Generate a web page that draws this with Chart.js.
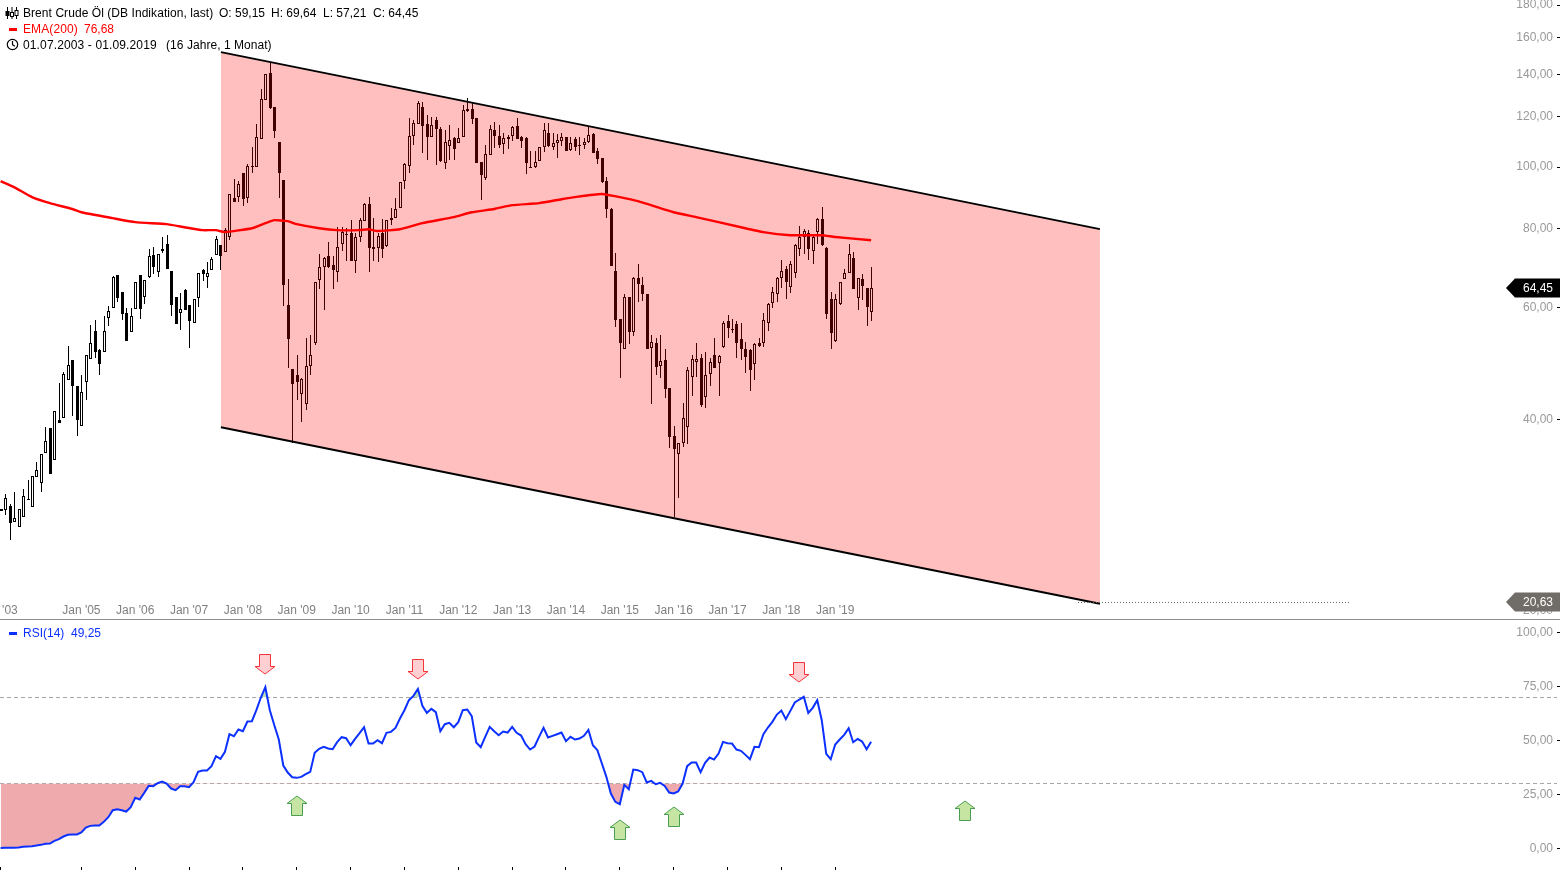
<!DOCTYPE html>
<html>
<head>
<meta charset="utf-8">
<title>Brent Crude Öl</title>
<script src="https://cdn.jsdelivr.net/npm/chart.js@4"></script>
<style>
  html, body { margin: 0; padding: 0; background: #fff; overflow: hidden; }
  #page { position: relative; width: 1560px; height: 870px; font: 12px "Liberation Sans", Arial, sans-serif; }
  canvas { position: absolute; left: 0; }
  #priceChart { top: 0; }
  #rsiChart { top: 620px; }
  #divider { position: absolute; left: 0; top: 619px; width: 1560px; height: 1px; background: #8c8c8c; }
  .txt { position: absolute; line-height: 16px; white-space: pre; }
  .dash { position: absolute; left: 9px; width: 8px; height: 3px; }
  svg { position: absolute; }
</style>
</head>
<body>
<div id="page">
  <canvas id="priceChart" width="1560" height="619"></canvas>
  <canvas id="rsiChart" width="1560" height="250"></canvas>
  <div id="divider"></div>

  <svg style="left:5px;top:7px" width="14" height="12" viewBox="0 0 14 12" fill="none" stroke="#000">
    <path d="M2.5 0v12M7 0v12M11.5 0v12"/>
    <rect x="1" y="4.5" width="3" height="4" fill="#000"/>
    <rect x="5.5" y="5.5" width="3" height="4" fill="#fff"/>
    <rect x="10" y="3.5" width="3" height="5" fill="#fff"/>
  </svg>
  <span class="txt" style="left:23px;top:5px;letter-spacing:.06px">Brent Crude Öl (DB Indikation, last)</span>
  <span class="txt" style="left:219px;top:5px">O: 59,15</span>
  <span class="txt" style="left:271px;top:5px">H: 69,64</span>
  <span class="txt" style="left:323px;top:5px">L: 57,21</span>
  <span class="txt" style="left:373px;top:5px">C: 64,45</span>

  <div class="dash" style="top:28px;background:#ff0000"></div>
  <span class="txt" style="left:23px;top:21px;color:#ff0000;letter-spacing:.1px">EMA(200)</span>
  <span class="txt" style="left:84px;top:21px;color:#ff0000">76,68</span>

  <svg style="left:6px;top:38px" width="13" height="13" viewBox="0 0 13 13" fill="none" stroke="#000" stroke-width="1.2">
    <circle cx="6.5" cy="6.5" r="5.2"/><path d="M6.5 3v3.7l2.4 1.5"/>
  </svg>
  <span class="txt" style="left:23px;top:37px;letter-spacing:.13px">01.07.2003 - 01.09.2019</span>
  <span class="txt" style="left:166px;top:37px;letter-spacing:.05px">(16 Jahre, 1 Monat)</span>

  <div class="dash" style="top:632px;background:#0b30ff"></div>
  <span class="txt" style="left:23px;top:625px;color:#0b30ff">RSI(14)</span>
  <span class="txt" style="left:71px;top:625px;color:#0b30ff">49,25</span>
</div>

<script>
// monatskerzen ab Jul '03, index = monate seit start
const candleOpen = [
  28.7,28.8,29.22,27.57,27.07,28.08,29.86,29.12,32.47,31.77,
  35.42,38.78,34.53,39.92,40.22,46.16,49.63,45.17,39.07,45.83,
  49.81,55.14,51.47,51.1,57.81,59.95,67.6,63.53,58.88,54.95,
  59.73,67.6,62.4,67.1,72.67,68.32,74.26,75.63,68.57,62.4,
  58.88,63.99,60.61,56.78,62.17,68.81,67.1,68.81,72.67,75.36,
  73.46,77.57,89.37,89.7,97.86,89.37,100.38,100,110.69,127.53,
  140.68,124.35,109.5,95.39,60.61,48.04,47.01,43.88,42.32,48.57,
  52.8,66.36,69.57,72.4,70.08,68.32,75.63,78.42,78.71,71.1,
  77.57,82.2,87.44,74.81,74.54,78.71,75.09,82.5,83.11,86.18,
  95.05,100.38,111.9,116.9,124.35,116.9,111.52,118.6,114.8,101.48,
  107.9,111.1,109.1,111.52,123.44,123.44,119.5,101.84,96.1,104.47,
  114.37,111.9,108.73,111.52,111.9,116.06,111.52,111.1,100,100,
  102.2,107.55,113.15,107.55,109.1,109.9,111.52,106.37,110.69,108.33,
  108.33,109.5,112.74,106,103.33,95.05,85.87,68.57,57.6,51.66,
  62.4,54.95,66.85,65.17,63.07,51.85,52.8,48.57,49.63,44.84,
  37.68,35.29,36.73,38.93,46.67,49.27,49.99,43.4,47.18,50.55,
  49.09,52.04,57.19,55.54,56.57,53.57,51.66,51.47,48.92,52.8,
  52.8,56.78,61.05,63.07,66.85,69.06,64.7,68.08,74.26,77.57,
  78.71,73.73,78.99,82.8,74.54,61.94,53.18,60.83,66.6,68.08,
  71.88,62.17,66.6,64.46,59.15
];
const candleHigh = [
  28.9,30.53,29.44,30.75,28.91,31.08,32.11,32.58,34.28,35.29,
  38.93,38.78,41.25,45.67,47.52,52.23,49.63,45.17,47.01,50.55,
  56.37,57.39,51.66,58.24,60.39,67.34,67.6,63.53,59.95,59.95,
  65.89,67.6,66.36,74.26,74.81,72.93,77.57,78.14,68.57,62.4,
  63.3,64.23,60.61,61.94,68.08,69.06,70.84,72.14,77.86,75.36,
  80.15,90.68,95.74,95.05,97.86,101.11,107.55,116.9,132.73,140.2,
  145.9,124.35,109.5,95.39,66.6,48.04,50.55,46.5,53.76,54.36,
  65.89,72.93,72.14,76.17,72.4,80.44,80.44,80.15,82.5,78.71,
  83.11,87.76,89.7,83.11,78.71,82.8,82.5,86.18,89.37,94.71,
  101.5,119.5,118.6,127.1,126.6,120.8,119.9,119.9,115.6,114.37,
  116.5,111.52,115.2,125.26,128.47,126.17,119.5,101.84,108.33,116.5,
  117.75,116.5,113.15,112.33,116.06,119.45,111.9,111.52,105.99,105.99,
  107.55,117.33,117.33,113.15,112.74,113.15,111.52,111.52,111.52,111.52,
  111.1,115.6,113.15,107.15,103.33,96.45,86.2,73.2,57.6,63.08,
  62.4,67.1,70.33,67.1,63.07,54.36,53.76,54.36,51.66,44.84,
  39.07,36.73,42.47,48.39,50.55,52.8,50.73,51.1,49.99,53.76,
  50.55,57.19,58.45,57.6,57.19,56.78,52.99,51.66,52.8,53.76,
  58.88,61.05,64.7,67.1,71.35,69.82,71.1,75.63,80.74,79.85,
  79.56,78.42,83.11,86.49,74.81,63.53,63.07,65.89,69.06,75.63,
  73.46,66.85,67.83,64.46,69.64
];
const candleLow = [
  28.7,28.29,25.83,27.57,27.07,28.08,29.86,29.12,32.47,30.75,
  35.42,32.82,34.53,39.49,40.22,46.16,40.51,37.68,39.07,42.93,
  49.81,49.99,47.01,51.1,56.16,59.95,61.27,57.39,53.18,54.95,
  59.73,57.6,60.83,66.85,67.83,67.1,73.2,69.06,58.24,56.57,
  55.34,59.51,51.85,56.78,60.17,66.12,64.46,68.81,72.67,68.81,
  73.46,76.72,88.08,88.08,86.81,87.76,97.86,100,110.69,127.53,
  123.44,111.1,89.37,60.39,48.21,36.73,42.93,39.64,41.4,47.01,
  52.42,64.23,59.51,69.31,64.23,65.89,73.73,71.1,71.1,68.08,
  76.17,82.2,68.32,71.1,70.84,71.88,74.81,81.03,83.11,86.18,
  92.33,97.86,108.33,116.9,105.23,102.57,111.52,100.75,101.84,99.28,
  102.57,102.57,109.1,111.52,122.1,116.9,101.48,88.71,95.39,104.47,
  107.15,107.15,104.85,106.76,109.9,110.69,107.15,97.5,99.64,99.64,
  102.2,105.6,107.55,106.37,103.33,107.9,106,106,106,104.47,
  106.76,109.1,105.23,101.11,94.37,83.11,69.82,55.95,46.5,51.66,
  52.61,54.16,61.27,61.49,51.66,42.32,47.01,46.5,43.25,36.07,
  28.08,30.08,36.2,36.6,43.56,46.67,41.85,41.7,45.17,48.21,
  43.56,51.85,53.76,54.75,49.99,49.63,47.35,44.35,46.16,52.04,
  52.04,55.14,59.95,61.27,64.46,61.94,63.3,66.85,72.4,72.93,
  71.35,70.33,75.63,75.09,57.6,51.66,52.99,60.61,66.6,68.08,
  64.23,59.51,61.71,56.16,57.21
];
const candleClose = [
  28.9,30.08,27.47,27.98,28.91,30.3,29.97,32.58,33.3,35.29,
  36.99,32.82,41.25,39.49,47.18,48.75,45.17,39.92,44.19,50.55,
  52.8,51.1,48.92,55.14,59.3,67.1,62.17,58.66,53.18,58.24,
  65.89,59.73,66.36,72.4,69.57,72.93,73.73,69.06,60.61,56.57,
  59.73,59.51,57.19,61.94,68.08,67.83,68.08,71.61,77.0,72.4,
  79.56,90.68,88.08,94.03,89.04,100.38,100,111.52,128,140.2,
  123.9,113.96,97.86,65.17,53.57,45.5,45.83,46.33,48.57,50.55,
  65.89,69.57,71.88,69.57,68.81,74.81,78.99,78.14,71.1,77.57,
  82.5,87.44,74.54,74.26,77.86,74.26,82.5,83.11,85.87,94.71,
  101.11,111.9,117.33,126.17,116.06,111.52,116.5,114.8,102.2,109.5,
  110.3,106.76,111.1,122.99,122.55,119.04,101.48,97.15,104.85,114.8,
  111.9,108.33,111.1,110.69,115.6,110.69,109.9,101.48,99.64,101.84,
  107.55,114.37,107.9,109.1,110.3,111.52,106,109.1,107.55,107.9,
  109.5,112.33,105.23,102.95,94.71,85.87,69.82,57.39,52.8,62.4,
  54.95,66.85,65.41,63.07,51.66,52.99,48.39,49.45,44.67,37.54,
  35.93,36.73,40.22,47.86,49.81,49.81,42.17,47.01,49.27,48.21,
  50.36,56.78,55.74,55.34,52.8,51.66,50.18,47.86,52.61,52.23,
  57.39,60.83,63.53,66.85,68.57,65.89,70.33,75.36,77.57,79.28,
  74.26,77.57,82.8,75.36,58.66,54.75,61.94,65.89,68.08,72.93,
  64.23,66.85,64.94,60.17,64.45
];

const emaMonths = [0,3,7,11,16,18,25,30,37,41,45,48,50,56,59,61,64,66,71,75,80,82,84,89,94,101,105,110,114,120,125,128,134,142,150,155,165,170,176,180,183,186,194];
const emaValues = [95.05,93.0,89.7,87.75,85.9,84.9,83.1,81.9,81.3,80.4,79.55,79.55,79.0,80.1,81.6,82.5,82.2,81.3,80.1,79.55,79.55,79.8,79.3,79.8,81.6,83.4,84.9,85.9,87.1,87.75,89.0,89.7,90.7,88.4,84.9,83.4,80.4,79.0,78.1,78.1,78.1,77.6,76.68];

const rsiValues = [
  0.1,0.16,0.16,0.16,0.31,0.62,0.78,0.93,1.24,1.55,
  2.01,2.16,3.4,4.17,5.41,6.18,6.33,6.33,7.26,9.57,
  10.34,10.5,10.5,12.2,14.36,17.6,18.06,17.6,16.98,18.99,
  23.31,22.54,25.62,28.86,28.71,30.1,30.87,29.94,27.63,26.86,
  28.71,28.71,28.25,30.56,35.34,35.96,35.96,37.97,42.6,41.36,
  44.6,52.78,51.86,54.94,54.17,58.65,58.8,63.89,69.76,74.54,
  63.89,56.95,50.31,38.28,35.04,32.87,32.57,33.03,34.26,35.34,
  44.14,45.99,46.92,46.15,45.84,49.08,51.39,50.93,47.69,50.62,
  53.25,56.02,48.46,48.46,50,48.62,53.4,53.86,55.71,60.04,
  63.89,68.52,70.53,73.77,65.9,62.66,64.51,62.97,54.17,57.41,
  58.03,56.02,58.34,63.89,64.2,61.12,48.92,46.76,51.55,56.18,
  54.17,52.32,54.02,53.55,56.18,53.4,52.16,48.15,45.68,47.07,
  51.55,55.71,51.24,52.01,52.78,53.55,49.54,51.55,50.31,50.78,
  52.01,54.79,47.69,45.37,39.2,33.03,25.31,21.46,20.37,29.33,
  27.32,36.42,36.12,35.19,30.41,31.18,29.63,30.25,28.86,25.78,
  25.31,26.24,29.94,37.97,39.66,39.66,35.19,39.51,41.98,41.05,
  43.83,49.23,48.62,48.46,45.68,45.07,43.21,41.21,46.92,46.76,
  52.78,55.87,58.49,61.89,63.74,59.73,63.58,67.44,68.83,70.07,
  62.66,64.97,68.52,59.26,43.68,41.21,48,50.31,52.47,55.56,
  49.08,50.62,49.39,45.84,49.25
];

// trendkanal: monat + kurs
const channelMonths = [49.1, 245];
const channelUpper = [151.8, 79.85];
const channelLower = [38.9, 20.5];
const supportMonths = [240, 301];
const supportPrice = 20.63;
const lastPrice = 64.45;

// signale im RSI panel
const sellMonths = [59, 93, 178];
const sellLevels = [85.2, 82.9, 81.5];
const buyMonths = [66, 138, 150, 215];
const buyLevels = [19.4, 8.3, 14.4, 17.1];

const priceTicks = [20, 40, 60, 80, 100, 120, 140, 160, 180];
const rsiTicks = [0, 25, 50, 75, 100];
const rsiBands = [30, 70];
const xTickMonths = [0, 18, 30, 42, 54, 66, 78, 90, 102, 114, 126, 138, 150, 162, 174, 186];
const xTickLabels = ["Jul '03", "Jan '05", "Jan '06", "Jan '07", "Jan '08", "Jan '09", "Jan '10", "Jan '11", "Jan '12", "Jan '13", "Jan '14", "Jan '15", "Jan '16", "Jan '17", "Jan '18", "Jan '19"];

// x achse: pixel = 0.6 + 4.487 * monat, breite bis 1557
const xMin = -0.134;
const xMax = 346.86;

Chart.defaults.font.family = '"Liberation Sans", Arial, sans-serif';
Chart.defaults.font.size = 12;
Chart.defaults.animation = false;

const comma = v => Number(v).toFixed(2).replace('.', ',');

// kerzen und pfeile auf ganze pixel setzen, sonst werden sie unscharf
const snapMarks = {
  id: 'snapMarks',
  afterDatasetsUpdate(chart) {
    chart.getSortedVisibleDatasetMetas().forEach(meta => {
      const ds = chart.data.datasets[meta.index];
      if (meta.type === 'bar') {
        meta.data.forEach(el => {
          el.x = Math.round(el.x) + 0.5;
          el.y = Math.round(el.y);
          el.base = Math.round(el.base);
          if (el.base === el.y) el.base = el.y + 1;
        });
      } else if (ds.snap) {
        meta.data.forEach(el => {
          el.x = Math.round(el.x);
          el.y = Math.round(el.y);
        });
      } else if (ds.snapRow) {
        // gestrichelte linien genau auf eine pixelzeile
        meta.data.forEach(el => {
          el.x = Math.round(el.x);
          el.y = Math.floor(el.y) + 0.5;
        });
      }
    });
  }
};

// kurs-fähnchen rechts (64,45 und 20,63)
const priceTags = {
  id: 'priceTags',
  afterDraw(chart) {
    const { ctx, scales } = chart;
    [[lastPrice, '#000000'], [supportPrice, '#706c68']].forEach(([value, color]) => {
      const y = Math.round(scales.y.getPixelForValue(value));
      ctx.save();
      ctx.fillStyle = color;
      ctx.beginPath();
      ctx.moveTo(1506, y);
      ctx.lineTo(1515, y - 9.5);
      ctx.lineTo(1560, y - 9.5);
      ctx.lineTo(1560, y + 9.5);
      ctx.lineTo(1515, y + 9.5);
      ctx.closePath();
      ctx.fill();
      ctx.fillStyle = '#ffffff';
      ctx.font = '12px "Liberation Sans", Arial, sans-serif';
      ctx.textAlign = 'right';
      ctx.textBaseline = 'middle';
      ctx.fillText(comma(value), 1553, y + 0.5);
      ctx.restore();
    });
  }
};

const priceOrder = { wick: 6, body: 5, upper: 4, lower: 3, ema: 2, support: 1 };

new Chart(document.getElementById('priceChart'), {
  type: 'bar',
  plugins: [snapMarks, priceTags],
  data: {
    datasets: [
      {
        label: 'wick',
        order: priceOrder.wick,
        data: candleHigh.map((h, i) => ({ x: i, y: [candleLow[i], h] })),
        backgroundColor: '#000000',
        barThickness: 1,
        grouped: false,
        inflateAmount: 0,
        borderWidth: 0
      },
      {
        label: 'body',
        order: priceOrder.body,
        data: candleOpen.map((o, i) => ({ x: i, y: [o, candleClose[i]] })),
        backgroundColor: candleOpen.map((o, i) => candleClose[i] >= o ? '#ffffff' : '#000000'),
        borderColor: '#000000',
        borderWidth: 1,
        borderSkipped: false,
        barThickness: 3,
        grouped: false,
        inflateAmount: 0
      },
      {
        type: 'line',
        label: 'Kanal oben',
        order: priceOrder.upper,
        data: channelMonths.map((m, i) => ({ x: m, y: channelUpper[i] })),
        borderColor: '#000000',
        borderWidth: 2,
        pointRadius: 0,
        fill: '+1',
        backgroundColor: 'rgba(255, 0, 0, 0.25)'
      },
      {
        type: 'line',
        label: 'Kanal unten',
        order: priceOrder.lower,
        data: channelMonths.map((m, i) => ({ x: m, y: channelLower[i] })),
        borderColor: '#000000',
        borderWidth: 2,
        pointRadius: 0
      },
      {
        type: 'line',
        label: 'EMA(200)',
        order: priceOrder.ema,
        data: emaMonths.map((m, i) => ({ x: m, y: emaValues[i] })),
        borderColor: '#ff0000',
        borderWidth: 2.4,
        pointRadius: 0,
        tension: 0.15
      },
      {
        type: 'line',
        label: 'Unterstützung',
        order: priceOrder.support,
        snapRow: true,
        data: supportMonths.map(m => ({ x: m, y: supportPrice })),
        borderColor: '#666666',
        borderWidth: 1,
        borderDash: [1, 2],
        pointRadius: 0
      }
    ]
  },
  options: {
    responsive: false,
    layout: { padding: 0, autoPadding: false },
    plugins: { legend: { display: false }, tooltip: { enabled: false } },
    scales: {
      x: {
        type: 'linear',
        min: xMin,
        max: xMax,
        bounds: 'data',
        offset: false,
        grid: { display: false, offset: false },
        border: { display: false },
        ticks: {
          color: '#808080',
          mirror: true,
          padding: 1,
          autoSkip: false,
          maxRotation: 0,
          callback: v => xTickLabels[xTickMonths.indexOf(v)]
        },
        afterBuildTicks: s => { s.ticks = xTickMonths.map(v => ({ value: v })); },
        afterFit: s => { s.height = 0; s.paddingLeft = 0; s.paddingRight = 0; }
      },
      y: {
        type: 'logarithmic',
        position: 'right',
        min: 19.4,
        max: 183.4,
        bounds: 'data',
        grid: { drawOnChartArea: false, tickLength: 3, tickColor: '#000000' },
        border: { display: false },
        ticks: { color: '#999999', mirror: true, padding: -4, autoSkip: false, callback: comma },
        afterBuildTicks: s => { s.ticks = priceTicks.map(v => ({ value: v })); },
        afterFit: s => { s.width = 3; s.paddingTop = 0; s.paddingBottom = 0; }
      }
    }
  }
});

// pfeil als canvas für pointStyle
function makeArrow(fill, stroke, up) {
  const c = document.createElement('canvas');
  c.width = 22;
  c.height = 22;
  const g = c.getContext('2d');
  if (!up) { g.translate(0, 22); g.scale(1, -1); }
  g.beginPath();
  g.moveTo(11, 1);
  g.lineTo(21, 8.5);
  g.lineTo(16.5, 8.5);
  g.lineTo(16.5, 20.5);
  g.lineTo(5.5, 20.5);
  g.lineTo(5.5, 8.5);
  g.lineTo(1, 8.5);
  g.closePath();
  g.fillStyle = fill;
  g.fill();
  g.lineWidth = 1;
  g.strokeStyle = stroke;
  g.stroke();
  return c;
}

new Chart(document.getElementById('rsiChart'), {
  type: 'line',
  plugins: [snapMarks],
  data: {
    datasets: [
      ...rsiBands.map(level => ({
        label: 'Band ' + level,
        order: 5,
        snapRow: true,
        data: [{ x: xMin, y: level }, { x: xMax, y: level }],
        borderColor: '#a6a6a6',
        borderWidth: 1,
        borderDash: [4, 3],
        pointRadius: 0
      })),
      {
        label: 'RSI ueberkauft',
        order: 4,
        data: rsiValues.map((v, i) => ({ x: i, y: v })),
        borderWidth: 0,
        pointRadius: 0,
        fill: { target: { value: 70 }, above: '#b9e2b4', below: 'rgba(0,0,0,0)' }
      },
      {
        label: 'RSI(14)',
        order: 3,
        data: rsiValues.map((v, i) => ({ x: i, y: v })),
        borderColor: '#0b30ff',
        borderWidth: 2,
        pointRadius: 0,
        fill: { target: { value: 30 }, above: 'rgba(0,0,0,0)', below: '#eeaaac' }
      },
      {
        label: 'Verkauf',
        order: 2,
        snap: true,
        showLine: false,
        data: sellMonths.map((m, i) => ({ x: m, y: sellLevels[i] })),
        pointRadius: 11,
        pointStyle: makeArrow('#ffcfd2', '#f4333a', false)
      },
      {
        label: 'Kauf',
        order: 1,
        snap: true,
        showLine: false,
        data: buyMonths.map((m, i) => ({ x: m, y: buyLevels[i] })),
        pointRadius: 11,
        pointStyle: makeArrow('#c6e4a2', '#4a9e52', true)
      }
    ]
  },
  options: {
    responsive: false,
    layout: { padding: 0, autoPadding: false },
    plugins: { legend: { display: false }, tooltip: { enabled: false } },
    scales: {
      x: {
        type: 'linear',
        min: xMin,
        max: xMax,
        bounds: 'data',
        grid: { drawOnChartArea: false, tickLength: 3, tickColor: '#000000' },
        border: { display: false },
        ticks: { display: false, autoSkip: false },
        afterBuildTicks: s => { s.ticks = xTickMonths.map(v => ({ value: v })); },
        afterFit: s => { s.height = 3; s.paddingLeft = 0; s.paddingRight = 0; }
      },
      y: {
        type: 'linear',
        position: 'right',
        min: -8.7,
        max: 105.65,
        bounds: 'data',
        grid: { drawOnChartArea: false, tickLength: 3, tickColor: '#000000' },
        border: { display: false },
        ticks: { color: '#999999', mirror: true, padding: -4, autoSkip: false, callback: comma },
        afterBuildTicks: s => { s.ticks = rsiTicks.map(v => ({ value: v })); },
        afterFit: s => { s.width = 3; s.paddingTop = 0; s.paddingBottom = 0; }
      }
    }
  }
});
</script>
</body>
</html>
